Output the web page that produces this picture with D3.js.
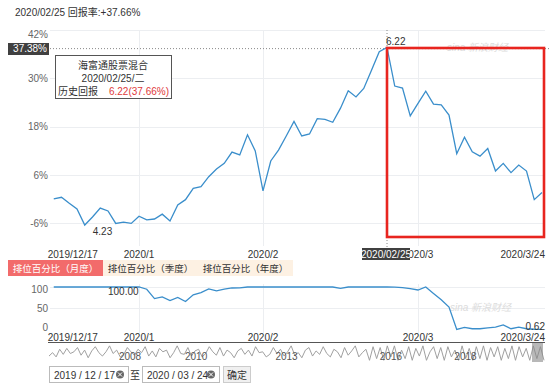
<!DOCTYPE html>
<html lang="zh">
<head>
<meta charset="utf-8">
<title>海富通股票混合</title>
<script src="https://cdn.jsdelivr.net/npm/d3@7/dist/d3.min.js"></script>
<style>
  body { margin: 0; background: #fff; }
  svg { font-family: "Liberation Sans", "Noto Sans CJK SC", sans-serif; }
</style>
</head>
<body>
<script>
// trading days shown
var dates = [
  "2019/12/17","2019/12/18","2019/12/19","2019/12/20","2019/12/23","2019/12/24","2019/12/25","2019/12/26","2019/12/27","2019/12/30","2019/12/31",
  "2020/01/02","2020/01/03","2020/01/06","2020/01/07","2020/01/08","2020/01/09","2020/01/10","2020/01/13","2020/01/14","2020/01/15","2020/01/16","2020/01/17","2020/01/20","2020/01/21","2020/01/22","2020/01/23",
  "2020/02/03","2020/02/04","2020/02/05","2020/02/06","2020/02/07","2020/02/10","2020/02/11","2020/02/12","2020/02/13","2020/02/14","2020/02/17","2020/02/18","2020/02/19","2020/02/20","2020/02/21","2020/02/24","2020/02/25","2020/02/26","2020/02/27","2020/02/28",
  "2020/03/02","2020/03/03","2020/03/04","2020/03/05","2020/03/06","2020/03/09","2020/03/10","2020/03/11","2020/03/12","2020/03/13","2020/03/16","2020/03/17","2020/03/18","2020/03/19","2020/03/20","2020/03/23","2020/03/24"
];
// 回报率 (%)
var returns = [
  0.1, 0.5, -1.0, -2.4, -6.4, -4.4, -2.2, -2.9, -6.0, -5.7, -6.0,
  -4.2, -5.1, -4.9, -3.7, -5.4, -1.4, -0.1, 2.7, 3.1, 5.6,
  7.5, 8.9, 11.7, 11.0, 16.0, 12.0, 2.1, 9.5, 12.2, 15.7,
  19.3, 15.7, 16.2, 20.0, 19.8, 19.1, 22.6, 26.9, 25.4, 27.5,
  32.0, 36.6, 37.66, 28.1, 27.6, 20.7, 23.8, 26.8, 23.6, 23.4,
  20.9, 11.3, 15.4, 11.8, 10.7, 12.6, 7.0, 8.9, 6.6, 8.5,
  7.0, -0.1, 1.7
];
// 排位百分比（月度）
var ranks = [
  100, 100, 100, 100, 100, 100, 100, 100, 100, 100, 100,
  100, 94.8, 72.7, 76.6, 68, 75.7, 66, 81.8, 87, 95.5,
  91, 94.8, 97.7, 98, 100, 100, 100, 100, 100, 100,
  100, 100, 100, 100, 100, 100, 97, 100, 100, 100,
  100, 100, 100, 99.5, 98.5, 96, 93, 100, 85, 70,
  53, 0.5, 5, 2, 2, 4, 6, 11, 2, 6,
  2, 0.8, 0.62
];
var yTicks = [42, 30, 18, 6, -6];
var rankTicks = [100, 50, 0];
var tickDates = ["2019/12/17", "2020/01/02", "2020/02/03", "2020/03/02", "2020/03/24"];
var tickLabels = ["2019/12/17", "2020/1", "2020/2", "2020/3", "2020/3/24"];
var gridDates = ["2020/01/02", "2020/02/03", "2020/03/02"];
var navYears = ["2008", "2010", "2013", "2016", "2018"];
var navYearPos = [0.165, 0.298, 0.48, 0.69, 0.84];
// long-history thumbnail in the navigator (rough reading)
var navSeries = [
  0.35,0.55,0.3,0.75,0.45,0.8,0.5,0.6,0.85,0.4,0.7,0.25,0.65,0.9,0.55,0.35,0.6,0.95,0.5,0.7,
  0.3,0.45,0.85,0.6,0.4,0.75,0.55,0.9,0.35,0.65,0.3,0.8,0.6,0.7,0.25,0.55,0.95,0.5,0.45,0.85,
  0.35,0.65,0.75,0.3,0.5,0.9,0.6,0.4,0.85,0.35,0.7,0.55,0.25,0.65,0.8,0.45,0.7,0.35,0.9,0.55,
  0.6,0.3,0.45,0.85,0.5,0.75,0.35,0.6,0.95,0.4,0.55,0.25,0.7,0.85,0.35,0.65,0.45,0.9,0.5,0.3,
  0.75,0.6,0.25,0.85,0.4,0.65,0.95,0.3,0.55,0.75,0.1,0.9,0.2,0.85,0.1,0.95,0.3,0.95,0.1,0.7,
  0.2,0.9,0.1,0.8,0.35,0.95,0.1,0.6,0.9,0.2,0.85,0.1,0.9,0.3,0.7,0.1,0.95,0.2,0.8,0.1,
  0.9,0.2,0.95,0.1,0.85,0.3,0.9,0.1,0.8,0.2,0.95,0.1,0.9,0.3,0.8,0.1,0.95,0.2,0.9,0.1
];

var W = 550, H = 385;
var blue = "#3a8ecb";

var svg = d3.select("body").append("svg")
  .attr("width", W).attr("height", H);

var x = d3.scaleLinear().domain([0, dates.length - 1]).range([53.75, 542]);
var y = d3.scaleLinear().domain([-11.6, 42]).range([246, 30]);
var yr = d3.scaleLinear().domain([0, 100]).range([329.6, 287]);

// header
svg.append("text").attr("x", 15).attr("y", 16)
  .attr("font-size", 10).attr("fill", "#333")
  .text("2020/02/25 回报率:+37.66%");

// main grid
var grid = svg.append("g").attr("stroke", "#eceef1").attr("stroke-width", 1);
grid.selectAll("line.h").data(yTicks).enter().append("line")
  .attr("x1", 50).attr("x2", 545)
  .attr("y1", function(d) { return Math.round(y(d)) + 0.5; })
  .attr("y2", function(d) { return Math.round(y(d)) + 0.5; });
grid.selectAll("line.v").data(gridDates).enter().append("line")
  .attr("x1", function(d) { return Math.round(x(dates.indexOf(d))) + 0.5; })
  .attr("x2", function(d) { return Math.round(x(dates.indexOf(d))) + 0.5; })
  .attr("y1", 30).attr("y2", 246);

svg.selectAll("text.yt").data(yTicks).enter().append("text")
  .attr("x", 48).attr("y", function(d, i) { return y(d) + (i == 0 ? 4 : 0); })
  .attr("dy", "0.35em").attr("text-anchor", "end")
  .attr("font-size", 10).attr("fill", "#666")
  .text(function(d) { return d + "%"; });

// watermark
svg.append("text").attr("x", 447).attr("y", 51)
  .attr("font-size", 10).attr("font-style", "italic").attr("fill", "#dcdcdc")
  .text("sina 新浪财经");

// crosshair
var peak = returns.indexOf(d3.max(returns));
svg.append("line")
  .attr("x1", 50).attr("x2", 550)
  .attr("y1", y(37.38)).attr("y2", y(37.38))
  .attr("stroke", "#888").attr("stroke-dasharray", "1,2");
svg.append("line")
  .attr("x1", x(peak)).attr("x2", x(peak))
  .attr("y1", 30).attr("y2", 248)
  .attr("stroke", "#888").attr("stroke-dasharray", "1,2");

// main line
var line = d3.line()
  .x(function(d, i) { return x(i); })
  .y(function(d) { return y(d); });
svg.append("path").datum(returns)
  .attr("d", line).attr("fill", "none")
  .attr("stroke", blue).attr("stroke-width", 1.3);

var lo = returns.indexOf(d3.min(returns));
svg.append("text").attr("x", x(lo) + 8).attr("y", 235)
  .attr("font-size", 10).attr("fill", "#333").text("4.23");
svg.append("text").attr("x", x(peak) - 1).attr("y", 45)
  .attr("font-size", 10).attr("fill", "#333").text("6.22");

// x axis labels
svg.selectAll("text.xt").data(tickDates).enter().append("text")
  .attr("x", function(d, i) {
    var px = x(dates.indexOf(d));
    return i == 0 ? px - 6 : (i == tickDates.length - 1 ? px + 3 : px);
  })
  .attr("y", 258)
  .attr("text-anchor", function(d, i) { return i == 0 ? "start" : (i == tickDates.length - 1 ? "end" : "middle"); })
  .attr("font-size", 10).attr("fill", "#333")
  .text(function(d, i) { return tickLabels[i]; });

// highlighted axis labels
svg.append("rect").attr("x", 8).attr("y", 43).attr("width", 41).attr("height", 12).attr("fill", "#404040");
svg.append("text").attr("x", 47).attr("y", y(37.38)).attr("dy", "0.35em")
  .attr("text-anchor", "end").attr("font-size", 10).attr("fill", "#fff").text("37.38%");
svg.append("rect").attr("x", x(peak) - 25).attr("y", 248).attr("width", 48).attr("height", 12).attr("fill", "#404040");
svg.append("text").attr("x", x(peak) - 1).attr("y", 258)
  .attr("text-anchor", "middle").attr("font-size", 10).attr("fill", "#fff").text("2020/02/25");

// red box
svg.append("rect")
  .attr("x", x(peak)).attr("y", 48)
  .attr("width", 544 - x(peak)).attr("height", 189)
  .attr("fill", "none").attr("stroke", "#e8251f").attr("stroke-width", 2.6);

// tooltip
var tip = svg.append("g");
tip.append("rect").attr("x", 55.5).attr("y", 55.5).attr("width", 116).attr("height", 43)
  .attr("fill", "#fff").attr("stroke", "#555");
tip.append("text").attr("x", 113).attr("y", 69).attr("text-anchor", "middle")
  .attr("font-size", 10).attr("fill", "#333").text("海富通股票混合");
tip.append("text").attr("x", 113).attr("y", 82).attr("text-anchor", "middle")
  .attr("font-size", 10).attr("fill", "#333").text("2020/02/25/二");
tip.append("text").attr("x", 58).attr("y", 95)
  .attr("font-size", 10).attr("fill", "#333").text("历史回报");
tip.append("text").attr("x", 169).attr("y", 95).attr("text-anchor", "end")
  .attr("font-size", 10).attr("fill", "#e0393b").text("6.22(37.66%)");

// tabs
var tabs = [
  { label: "排位百分比（月度）", x: 8, w: 95, fill: "#f26b6b", color: "#fff" },
  { label: "排位百分比（季度）", x: 103, w: 95, fill: "#fdf1e3", color: "#333" },
  { label: "排位百分比（年度）", x: 198, w: 95, fill: "#fdf1e3", color: "#333" }
];
var tab = svg.selectAll("g.tab").data(tabs).enter().append("g");
tab.append("rect").attr("x", function(d) { return d.x; }).attr("y", 260)
  .attr("width", function(d) { return d.w; }).attr("height", 16)
  .attr("fill", function(d) { return d.fill; });
tab.append("text").attr("x", function(d) { return d.x + d.w / 2; }).attr("y", 272)
  .attr("text-anchor", "middle").attr("font-size", 9.5)
  .attr("fill", function(d) { return d.color; })
  .text(function(d) { return d.label; });

// rank chart
var grid2 = svg.append("g").attr("stroke", "#eceef1");
grid2.selectAll("line.h").data([100, 50]).enter().append("line")
  .attr("x1", 50).attr("x2", 545)
  .attr("y1", function(d) { return Math.round(yr(d)) + 0.5; })
  .attr("y2", function(d) { return Math.round(yr(d)) + 0.5; });
grid2.selectAll("line.v").data(gridDates).enter().append("line")
  .attr("x1", function(d) { return Math.round(x(dates.indexOf(d))) + 0.5; })
  .attr("x2", function(d) { return Math.round(x(dates.indexOf(d))) + 0.5; })
  .attr("y1", 284).attr("y2", 333);

svg.selectAll("text.rt").data(rankTicks).enter().append("text")
  .attr("x", 48).attr("y", function(d, i) { return yr(d) + (i == 0 ? 2 : (i == 2 ? -2 : 0)); })
  .attr("dy", "0.35em").attr("text-anchor", "end")
  .attr("font-size", 10).attr("fill", "#666")
  .text(function(d) { return d; });

svg.append("text").attr("x", 450).attr("y", 311)
  .attr("font-size", 10).attr("font-style", "italic").attr("fill", "#dcdcdc")
  .text("sina 新浪财经");

var rline = d3.line()
  .x(function(d, i) { return x(i); })
  .y(function(d) { return yr(d); });
svg.append("path").datum(ranks)
  .attr("d", rline).attr("fill", "none")
  .attr("stroke", blue).attr("stroke-width", 1.3);

svg.append("text").attr("x", 108).attr("y", 295)
  .attr("font-size", 10).attr("fill", "#333").text("100.00");
svg.append("text").attr("x", 545).attr("y", 330).attr("text-anchor", "end")
  .attr("font-size", 10).attr("fill", "#333").text(ranks[ranks.length - 1].toFixed(2));

svg.selectAll("text.xt2").data(tickDates).enter().append("text")
  .attr("x", function(d, i) {
    var px = x(dates.indexOf(d));
    return i == 0 ? px - 6 : (i == tickDates.length - 1 ? px + 3 : px);
  })
  .attr("y", 341)
  .attr("text-anchor", function(d, i) { return i == 0 ? "start" : (i == tickDates.length - 1 ? "end" : "middle"); })
  .attr("font-size", 10).attr("fill", "#333")
  .text(function(d, i) { return tickLabels[i]; });

// navigator
var nx = d3.scaleLinear().domain([0, navSeries.length - 1]).range([49, 544]);
var ny = d3.scaleLinear().domain([0, 1]).range([362, 345]);
svg.append("line").attr("x1", 48).attr("x2", 545).attr("y1", 342.5).attr("y2", 342.5)
  .attr("stroke", "#555");
svg.append("path").datum(navSeries)
  .attr("d", d3.line().x(function(d, i) { return nx(i); }).y(function(d) { return ny(d); }))
  .attr("fill", "none").attr("stroke", "#a0a0a0").attr("stroke-width", 1);
svg.append("rect").attr("x", 532).attr("y", 343).attr("width", 11).attr("height", 19)
  .attr("fill", "#888").attr("opacity", 0.6);
svg.selectAll("text.ny").data(navYears).enter().append("text")
  .attr("x", function(d, i) { return 48 + navYearPos[i] * 497; })
  .attr("y", 360).attr("text-anchor", "middle")
  .attr("font-size", 10).attr("fill", "#555")
  .text(function(d) { return d; });

// date inputs
function dateBox(x0, w, label) {
  var g = svg.append("g");
  g.append("rect").attr("x", x0 + 0.5).attr("y", 366.5).attr("width", w).attr("height", 16)
    .attr("fill", "#fff").attr("stroke", "#bbb");
  g.append("text").attr("x", x0 + 5).attr("y", 378.5)
    .attr("font-size", 10).attr("fill", "#333").text(label);
  g.append("circle").attr("cx", x0 + w - 8).attr("cy", 374.5).attr("r", 4).attr("fill", "#666");
  g.append("path")
    .attr("d", "M" + (x0 + w - 10) + ",372.5l4,4M" + (x0 + w - 6) + ",372.5l-4,4")
    .attr("stroke", "#fff").attr("stroke-width", 1);
}
dateBox(49, 79, "2019 / 12 / 17");
svg.append("text").attr("x", 130).attr("y", 379).attr("font-size", 10).attr("fill", "#333").text("至");
dateBox(142, 77, "2020 / 03 / 24");
svg.append("rect").attr("x", 223.5).attr("y", 366.5).attr("width", 27).attr("height", 16)
  .attr("fill", "#f0f0f0").attr("stroke", "#ccc");
svg.append("text").attr("x", 237).attr("y", 378.5).attr("text-anchor", "middle")
  .attr("font-size", 10).attr("fill", "#333").text("确定");
</script>
</body>
</html>
